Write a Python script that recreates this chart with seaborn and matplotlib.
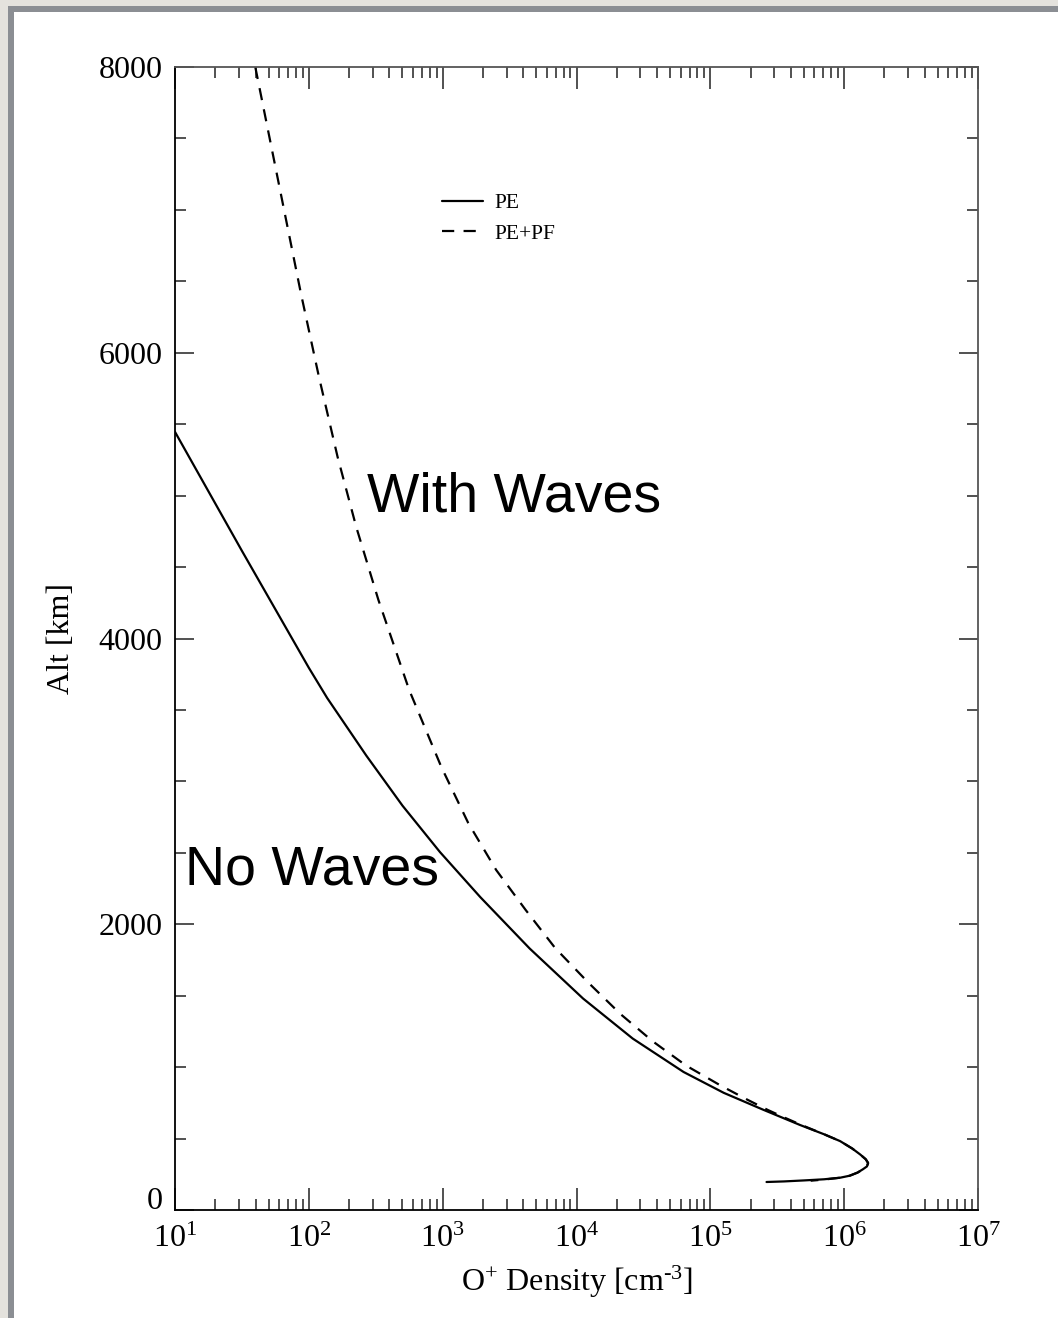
import matplotlib
matplotlib.use("Agg")
import matplotlib.pyplot as plt
import matplotlib.ticker as mticker
from matplotlib.patches import Rectangle
from matplotlib.transforms import ScaledTranslation
import seaborn as sns
import pandas as pd

# ---- data ----
pe_density = [1.00e1, 3.16e1, 1.00e2, 1.37e2, 2.69e2, 5.01e2, 9.55e2, 1.91e3,
              4.47e3, 1.12e4, 2.63e4, 6.31e4, 1.26e5, 2.51e5, 4.68e5, 7.08e5,
              9.33e5, 1.15e6, 1.32e6, 1.45e6, 1.51e6, 1.48e6, 1.38e6, 1.26e6,
              1.10e6, 9.33e5, 7.08e5, 5.01e5, 3.55e5, 2.63e5]
pe_alt = [5446, 4614, 3795, 3584, 3180, 2830, 2505, 2190,
          1830, 1480, 1200, 966, 820, 700, 595, 530,
          482, 430, 388, 355, 329, 305, 285, 262,
          240, 226, 215, 207, 200, 196]

pf_density = [3.98e1, 6.03e1, 8.71e1, 1.19e2, 1.64e2, 2.26e2, 3.31e2, 5.62e2,
              9.77e2, 1.55e3, 2.51e3, 4.17e3, 6.92e3, 1.23e4, 2.14e4, 3.72e4,
              6.61e4, 1.20e5, 1.91e5, 2.69e5, 3.72e5, 4.79e5, 7.08e5, 9.33e5,
              1.15e6, 1.32e6, 1.45e6, 1.51e6, 1.48e6, 1.38e6, 1.26e6, 1.10e6,
              9.33e5, 7.08e5, 5.62e5]
pf_alt = [8000, 7161, 6419, 5831, 5271, 4781, 4270, 3640,
          3101, 2710, 2380, 2100, 1834, 1590, 1370, 1180,
          1010, 870, 770, 700, 640, 595, 530, 482,
          430, 388, 355, 329, 305, 285, 262, 240,
          226, 213, 205]

series_names = ["PE", "PE+PF"]
x_ticks = [1e1, 1e2, 1e3, 1e4, 1e5, 1e6, 1e7]
y_ticks = [0, 2000, 4000, 6000, 8000]

df = pd.concat([
    pd.DataFrame({"density": pe_density, "alt": pe_alt, "series": series_names[0]}),
    pd.DataFrame({"density": pf_density, "alt": pf_alt, "series": series_names[1]}),
], ignore_index=True)

# ---- style ----
sns.set_theme(style="ticks")
plt.rcParams["font.family"] = ["Liberation Serif", "DejaVu Serif"]
plt.rcParams["mathtext.fontset"] = "custom"
plt.rcParams["mathtext.rm"] = "Liberation Serif"
plt.rcParams["mathtext.it"] = "Liberation Serif:italic"
plt.rcParams["mathtext.bf"] = "Liberation Serif:bold"
plt.rcParams["text.color"] = "black"
plt.rcParams["axes.labelcolor"] = "black"

W, H = 1058, 1318
fig = plt.figure(figsize=(W / 100, H / 100), dpi=100)
fig.patch.set_facecolor("#e4e2dd")
fig.patches.append(Rectangle((8 / W, 0), 1, (H - 6) / H, transform=fig.transFigure,
                             facecolor="#8b8e93", edgecolor="none", zorder=-20))
fig.patches.append(Rectangle((14 / W, 0), 1, (H - 12) / H, transform=fig.transFigure,
                             facecolor="white", edgecolor="none", zorder=-10))

ax = fig.add_axes([175 / W, 1 - 1210 / H, (978 - 175) / W, (1210 - 67) / H])
ax.set_zorder(5)
ax.set_facecolor("white")

sns.lineplot(data=df[df.series == "PE"], x="density", y="alt", sort=False,
             estimator=None, color="black", linewidth=1.6, label="PE", ax=ax,
             legend=False)
sns.lineplot(data=df[df.series == "PE+PF"], x="density", y="alt", sort=False,
             estimator=None, color="black", linewidth=1.6, label="PE+PF", ax=ax,
             linestyle=(0, (5.5, 4.2)), legend=False)

ax.set_xscale("log")
ax.set_xlim(1e1, 1e7)
ax.set_ylim(0, 8000)
ax.set_xticks(x_ticks)
ax.xaxis.set_major_formatter(mticker.LogFormatterSciNotation())
ax.xaxis.set_minor_locator(mticker.LogLocator(base=10, subs=range(2, 10), numticks=20))
ax.xaxis.set_minor_formatter(mticker.NullFormatter())
ax.set_yticks(y_ticks)
ax.yaxis.set_minor_locator(mticker.MultipleLocator(500))

ax.tick_params(axis="both", which="both", direction="in", top=True, right=True,
               colors="#222222", labelcolor="black", width=1.1, labelsize=23)
ax.tick_params(axis="x", which="major", length=16, pad=11)
ax.tick_params(axis="x", which="minor", length=8)
ax.tick_params(axis="y", which="major", length=14, pad=9)
ax.tick_params(axis="y", which="minor", length=8)

for s in ["left", "bottom"]:
    ax.spines[s].set_color("black")
    ax.spines[s].set_linewidth(1.3)
for s in ["top", "right"]:
    ax.spines[s].set_color("#555555")
    ax.spines[s].set_linewidth(1.3)

ax.set_xlabel(r"O$^{+}$ Density [cm$^{\text{-}3}$]", fontsize=23)
ax.set_ylabel("Alt [km]", fontsize=23)
ax.xaxis.set_label_coords(0.5, (1210 - 1264) / (1210 - 67))
ax.yaxis.set_label_coords((76 - 175) / (978 - 175), 0.5)

# shift the "0" label up slightly as in the reference
fig.canvas.draw()
for tick in ax.yaxis.get_major_ticks():
    if abs(tick.get_loc()) < 1e-9:
        tick.label1.set_transform(tick.label1.get_transform() +
                                  ScaledTranslation(0, 12 / 100, fig.dpi_scale_trans))

ax.legend(loc="upper left", bbox_to_anchor=((442 - 175) / 803, (1210 - 193) / 1143),
          frameon=False, fontsize=15.5, handlelength=1.9, handletextpad=0.55,
          labelspacing=0.5, borderpad=0, borderaxespad=0)

ax.text(272, 4886, "With Waves", family=["Liberation Sans", "DejaVu Sans"],
        fontsize=40, ha="left", va="baseline", color="black")
ax.text(11.9, 2275, "No Waves", family=["Liberation Sans", "DejaVu Sans"],
        fontsize=40, ha="left", va="baseline", color="black")

fig.savefig("out.png", dpi=100, facecolor=fig.get_facecolor())
